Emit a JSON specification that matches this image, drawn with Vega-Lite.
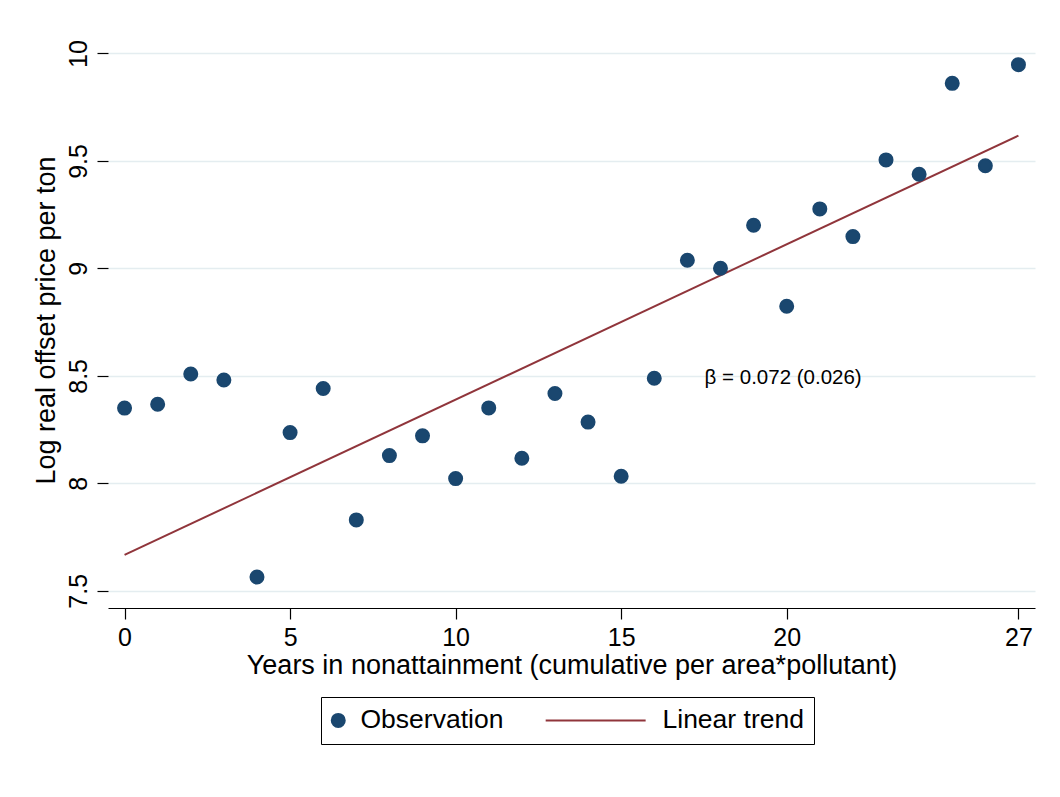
{
  "$schema": "https://vega.github.io/schema/vega-lite/v6.json",
  "autosize": {"type": "none"},
  "padding": {"left": 108, "top": 32, "right": 25, "bottom": 189},
  "width": 927,
  "height": 576,
  "background": "white",
  "config": {
    "font": "Liberation Sans",
    "view": {"stroke": null},
    "axis": {"labelFont": "Liberation Sans", "titleFont": "Liberation Sans", "labelColor": "#000", "titleColor": "#000", "titleFontWeight": "normal"},
    "legend": {
      "title": null,
      "orient": "none", "legendX": 213, "legendY": 665,
      "direction": "horizontal",
      "strokeColor": "#000", "fillColor": "#fff", "padding": 10,
      "symbolSize": 169, "symbolStrokeWidth": 2, "symbolOffset": -6,
      "labelFontSize": 26.5, "labelFont": "Liberation Sans", "labelColor": "#000",
      "labelOffset": 9, "columnPadding": 37
    }
  },
  "datasets": {
    "obs": [
      {"years": 0, "logprice": 8.350, "series": "Observation"},
      {"years": 1, "logprice": 8.368, "series": "Observation"},
      {"years": 2, "logprice": 8.509, "series": "Observation"},
      {"years": 3, "logprice": 8.481, "series": "Observation"},
      {"years": 4, "logprice": 7.564, "series": "Observation"},
      {"years": 5, "logprice": 8.236, "series": "Observation"},
      {"years": 6, "logprice": 8.441, "series": "Observation"},
      {"years": 7, "logprice": 7.830, "series": "Observation"},
      {"years": 8, "logprice": 8.129, "series": "Observation"},
      {"years": 9, "logprice": 8.221, "series": "Observation"},
      {"years": 10, "logprice": 8.022, "series": "Observation"},
      {"years": 11, "logprice": 8.351, "series": "Observation"},
      {"years": 12, "logprice": 8.117, "series": "Observation"},
      {"years": 13, "logprice": 8.418, "series": "Observation"},
      {"years": 14, "logprice": 8.285, "series": "Observation"},
      {"years": 15, "logprice": 8.033, "series": "Observation"},
      {"years": 16, "logprice": 8.489, "series": "Observation"},
      {"years": 17, "logprice": 9.038, "series": "Observation"},
      {"years": 18, "logprice": 9.001, "series": "Observation"},
      {"years": 19, "logprice": 9.201, "series": "Observation"},
      {"years": 20, "logprice": 8.824, "series": "Observation"},
      {"years": 21, "logprice": 9.277, "series": "Observation"},
      {"years": 22, "logprice": 9.148, "series": "Observation"},
      {"years": 23, "logprice": 9.505, "series": "Observation"},
      {"years": 24, "logprice": 9.438, "series": "Observation"},
      {"years": 25, "logprice": 9.861, "series": "Observation"},
      {"years": 26, "logprice": 9.478, "series": "Observation"},
      {"years": 27, "logprice": 9.948, "series": "Observation"}
    ],
    "trend": [
      {"years": 0, "logprice": 7.667},
      {"years": 27, "logprice": 9.618}
    ],
    "note": [
      {"years": 17.52, "logprice": 8.49, "label": "β = 0.072 (0.026)"}
    ]
  },
  "encoding": {
    "x": {
      "field": "years", "type": "quantitative",
      "scale": {"domain": [-0.5, 27.5], "nice": false, "zero": false},
      "axis": {
        "title": "Years in nonattainment (cumulative per area*pollutant)",
        "values": [0, 5, 10, 15, 20, 27],
        "grid": false,
        "domainColor": "#000", "domainWidth": 1.2,
        "tickColor": "#000", "tickWidth": 1.2, "tickSize": 11,
        "labelFontSize": 25, "labelPadding": 6, "labelFlush": false,
        "titleFontSize": 27, "titlePadding": 2
      }
    },
    "y": {
      "field": "logprice", "type": "quantitative",
      "scale": {"domain": [7.42, 10.1], "nice": false, "zero": false},
      "axis": {
        "title": "Log real offset price per ton",
        "values": [7.5, 8, 8.5, 9, 9.5, 10],
        "format": ".1~f",
        "domain": false,
        "grid": true, "gridColor": "#e4edf0", "gridWidth": 1.5,
        "tickColor": "#000", "tickWidth": 1.2, "tickSize": 11,
        "labelAngle": -90, "labelAlign": "center", "labelBaseline": "bottom",
        "labelFontSize": 25, "labelPadding": 6,
        "titleFontSize": 27, "titlePadding": 6
      }
    }
  },
  "layer": [
    {
      "data": {"name": "trend"},
      "mark": {"type": "line", "color": "#90353b", "strokeWidth": 2},
      "encoding": {}
    },
    {
      "data": {"name": "obs"},
      "mark": {"type": "point", "filled": true, "opacity": 1, "size": 169, "strokeWidth": 2},
      "encoding": {
        "fill": {
          "field": "series", "type": "nominal",
          "scale": {"domain": ["Observation", "Linear trend"], "range": ["#1a476f", "#90353b"]}
        },
        "stroke": {
          "field": "series", "type": "nominal",
          "scale": {"domain": ["Observation", "Linear trend"], "range": ["#1a476f", "#90353b"]}
        },
        "shape": {
          "field": "series", "type": "nominal",
          "scale": {"domain": ["Observation", "Linear trend"], "range": ["circle", "M-14.55,0L0.83,0"]}
        }
      }
    },
    {
      "data": {"name": "note"},
      "mark": {"type": "text", "align": "left", "baseline": "middle", "fontSize": 20.5, "font": "Liberation Sans", "color": "#000"},
      "encoding": {"text": {"field": "label"}}
    }
  ]
}
